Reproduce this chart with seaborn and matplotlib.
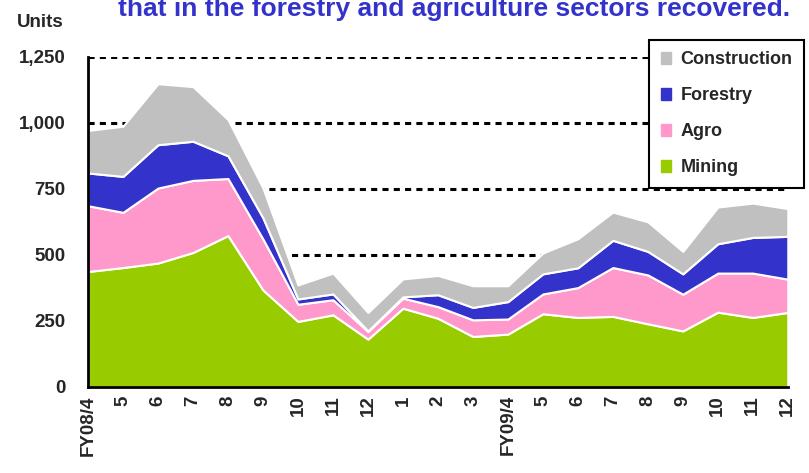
import numpy as np
import matplotlib
matplotlib.use("Agg")
import matplotlib.pyplot as plt
import matplotlib.patches as mpatches
import seaborn as sns

# monthly units by sector, FY08/4 .. FY09/12
months = ["FY08/4", "5", "6", "7", "8", "9", "10", "11", "12", "1", "2", "3",
          "FY09/4", "5", "6", "7", "8", "9", "10", "11", "12"]
mining = [437, 452, 469, 509, 573, 367, 248, 273, 181, 298, 260, 191,
          200, 277, 263, 267, 239, 212, 283, 263, 282]
agro = [249, 209, 284, 273, 216, 193, 65, 57, 29, 38, 44, 63,
        57, 75, 113, 185, 185, 139, 148, 168, 126]
forestry = [124, 136, 164, 148, 86, 80, 20, 22, 2, 5, 45, 47,
            66, 76, 75, 103, 89, 77, 111, 135, 162]
construction = [161, 190, 231, 207, 137, 113, 53, 79, 70, 68, 73, 82,
                60, 79, 110, 107, 112, 85, 139, 130, 105]

series = ["Mining", "Agro", "Forestry", "Construction"]
colors = ["#99CC00", "#FF99CC", "#3333CC", "#C0C0C0"]

sns.set_style("white")
plt.rcParams["font.family"] = ["Liberation Sans", "DejaVu Sans"]
plt.rcParams["font.weight"] = "bold"

fig = plt.figure(figsize=(8.09, 4.73), dpi=100)
ax = fig.add_axes([0.1088, 0.182, 0.865, 0.698])

x = np.arange(len(months))
ax.stackplot(x, mining, agro, forestry, construction, colors=colors,
             edgecolor="white", linewidth=1.5, zorder=2)

ax.set_xlim(0, len(months) - 1)
ax.set_ylim(0, 1250)
ax.set_yticks([0, 250, 500, 750, 1000, 1250])
ax.set_yticklabels(["0", "250", "500", "750", "1,000", "1,250"], fontsize=13.5, fontweight="bold")
ax.set_xticks(x)
ax.set_xticklabels(months, rotation=90, fontsize=13.5, fontweight="bold", va="top")

ax.yaxis.grid(True, color="black", linestyle=(0, (2, 1.7)), linewidth=2.2, zorder=0)
ax.set_axisbelow(True)
for side in ["top", "right"]:
    ax.spines[side].set_visible(False)
for side in ["left", "bottom"]:
    ax.spines[side].set_color("black")
    ax.spines[side].set_linewidth(2)
ax.tick_params(axis="both", direction="in", length=7, width=1.5, color="black", pad=6)
ax.tick_params(axis="y", pad=16)

fig.text(0.021, 0.952, "Units", fontsize=13.5, fontweight="bold", va="center")
# headline is cropped at the top edge in the original slide
fig.text(0.561, 0.966, "that in the forestry and agriculture sectors recovered.",
         fontsize=19, fontweight="bold", color="#3333CC", ha="center", va="baseline")

handles = [mpatches.Patch(color=c, label=s) for s, c in zip(series, colors)][::-1]
leg = fig.legend(handles=handles, loc="upper right", bbox_to_anchor=(0.994, 0.916),
                 fontsize=13, frameon=True, fancybox=False, framealpha=1,
                 facecolor="white", handlelength=0.6, handleheight=0.6,
                 handletextpad=0.5, labelspacing=1.05, borderpad=0.65,
                 borderaxespad=0)
leg.get_frame().set_edgecolor("black")
leg.get_frame().set_linewidth(1.5)
for t in leg.get_texts():
    t.set_fontweight("bold")

fig.savefig("out.png", dpi=100)
